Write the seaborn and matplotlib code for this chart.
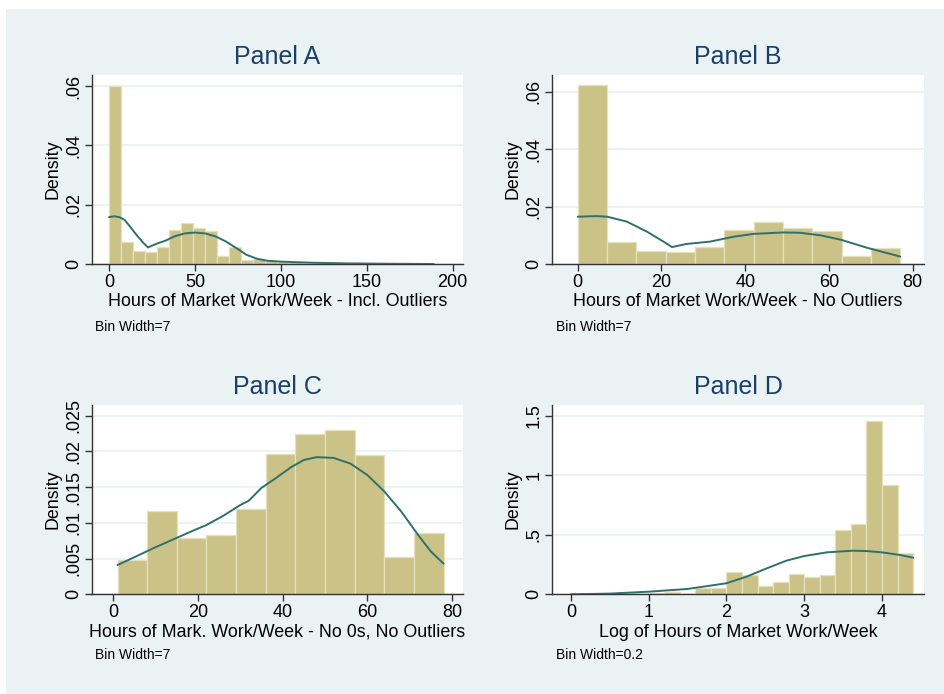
import numpy as np
import pandas as pd
import matplotlib
matplotlib.use("Agg")
import matplotlib.pyplot as plt
from matplotlib.patches import Rectangle
import seaborn as sns

sns.set_theme(style="white")
plt.rcParams["font.family"] = ["Liberation Sans", "DejaVu Sans"]

# ---- Panel A: hours of market work per week, including outliers (bin width 7)
a_bin_start, a_bin_width = 0, 7
a_density = [0.0600, 0.0074, 0.0044, 0.0040, 0.0057, 0.0113, 0.0138, 0.0121,
             0.0111, 0.0028, 0.0057, 0.0012, 0.0017, 0.0009, 0.0007, 0.0008,
             0.0004, 0.0004, 0.0002, 0.0001, 0.0001, 0.0001, 0.0001, 0.0001,
             0.0001, 0.0001, 0.0001]
a_kde_x = [0, 3, 6, 9, 12, 16, 20, 22.7, 28, 33, 38, 44, 50, 56, 62, 68, 74,
           80, 86, 92, 100, 110, 120, 140, 160, 189]
a_kde_y = [0.0158, 0.0161, 0.0158, 0.0149, 0.0128, 0.0098, 0.0071, 0.0056,
           0.0069, 0.0079, 0.0093, 0.0103, 0.0106, 0.0103, 0.0093, 0.0076,
           0.0054, 0.0031, 0.0018, 0.0011, 0.0008, 0.0006, 0.0004, 0.0002,
           0.0001, 0.0000]

# ---- Panel B: hours of market work per week, no outliers (bin width 7)
b_bin_start, b_bin_width = 0, 7
b_density = [0.0624, 0.0077, 0.0045, 0.0043, 0.0059, 0.0117, 0.0145, 0.0127,
             0.0116, 0.0029, 0.0057]
b_kde_x = [0, 4.5, 7, 11.7, 16.5, 20.5, 22.5, 26, 31.6, 37.2, 42, 49, 53,
           58, 63, 69, 77]
b_kde_y = [0.0165, 0.0167, 0.0165, 0.0148, 0.0113, 0.0078, 0.0059, 0.0070,
           0.0078, 0.0095, 0.0105, 0.0110, 0.0109, 0.0100, 0.0084, 0.0057,
           0.0026]

# ---- Panel C: hours of market work per week, no zeros, no outliers (bin width 7)
c_bin_start, c_bin_width = 1, 7
c_density = [0.0048, 0.0117, 0.0079, 0.0083, 0.0120, 0.0197, 0.0225, 0.0230,
             0.0195, 0.0052, 0.0086]
c_kde_x = [1, 5, 10, 15, 18, 22, 26, 30, 32, 35, 38, 42, 45, 48, 52, 56, 60,
           64, 68, 72, 75, 78]
c_kde_y = [0.0041, 0.0052, 0.0066, 0.0079, 0.0087, 0.0097, 0.0110, 0.0125,
           0.0131, 0.0149, 0.0161, 0.0178, 0.0188, 0.0192, 0.0191, 0.0183,
           0.0167, 0.0144, 0.0116, 0.0083, 0.0060, 0.0043]

# ---- Panel D: log of hours of market work per week (bin width 0.2)
d_bin_start, d_bin_width = 0.0, 0.2
d_density = [0.005, 0.0, 0.0, 0.006, 0.0, 0.010, 0.022, 0.0, 0.056, 0.050,
             0.188, 0.165, 0.067, 0.100, 0.171, 0.143, 0.163, 0.541, 0.592,
             1.461, 0.922, 0.348]
d_kde_x = [0, 0.5, 1.0, 1.5, 2.0, 2.26, 2.52, 2.77, 3.0, 3.29, 3.63, 3.8,
           4.0, 4.23, 4.4]
d_kde_y = [0.0, 0.006, 0.022, 0.045, 0.093, 0.149, 0.219, 0.283, 0.322,
           0.353, 0.367, 0.364, 0.353, 0.331, 0.308]

panels = [
    dict(title="Panel A", xlabel="Hours of Market Work/Week - Incl. Outliers",
         note="Bin Width=7", start=a_bin_start, width=a_bin_width,
         density=a_density, kx=a_kde_x, ky=a_kde_y,
         xticks=[0, 50, 100, 150, 200], xticklabels=["0", "50", "100", "150", "200"],
         yticks=[0, 0.02, 0.04, 0.06], yticklabels=["0", ".02", ".04", ".06"],
         xlim=(-9.9, 206), ylim=(0, 0.0637),
         rect=(92, 75, 463, 264), note_xy=(95, 327)),
    dict(title="Panel B", xlabel="Hours of Market Work/Week - No Outliers",
         note="Bin Width=7", start=b_bin_start, width=b_bin_width,
         density=b_density, kx=b_kde_x, ky=b_kde_y,
         xticks=[0, 20, 40, 60, 80], xticklabels=["0", "20", "40", "60", "80"],
         yticks=[0, 0.02, 0.04, 0.06], yticklabels=["0", ".02", ".04", ".06"],
         xlim=(-6.14, 82.7), ylim=(0, 0.0659),
         rect=(552, 75, 924, 264), note_xy=(556, 327)),
    dict(title="Panel C", xlabel="Hours of Mark. Work/Week - No 0s, No Outliers",
         note="Bin Width=7", start=c_bin_start, width=c_bin_width,
         density=c_density, kx=c_kde_x, ky=c_kde_y,
         xticks=[0, 20, 40, 60, 80], xticklabels=["0", "20", "40", "60", "80"],
         yticks=[0, 0.005, 0.01, 0.015, 0.02, 0.025],
         yticklabels=["0", ".005", ".01", ".015", ".02", ".025"],
         xlim=(-5.03, 82.6), ylim=(0, 0.0265),
         rect=(92, 405, 463, 594.3), note_xy=(95, 655)),
    dict(title="Panel D", xlabel="Log of Hours of Market Work/Week",
         note="Bin Width=0.2", start=d_bin_start, width=d_bin_width,
         density=d_density, kx=d_kde_x, ky=d_kde_y,
         xticks=[0, 1, 2, 3, 4], xticklabels=["0", "1", "2", "3", "4"],
         yticks=[0, 0.5, 1.0, 1.5], yticklabels=["0", ".5", "1", "1.5"],
         xlim=(-0.244, 4.54), ylim=(0, 1.593),
         rect=(552, 405, 924, 594.3), note_xy=(556, 655)),
]

W, H = 945, 694
BG = "#EAF2F3"
BAR = "#CBC287"
BAR_EDGE = "#E6E1BC"
LINE = "#2E716C"
TITLE = "#1A3F6A"

fig = plt.figure(figsize=(W / 100, H / 100), dpi=100)
fig.patch.set_facecolor("white")
fig.add_artist(Rectangle((6 / W, 0), 1 - 6 / W, (H - 9) / H,
                         transform=fig.transFigure, facecolor=BG,
                         edgecolor="none", zorder=-10))

for p in panels:
    x0, y0, x1, y1 = p["rect"]
    ax = fig.add_axes([x0 / W, 1 - y1 / H, (x1 - x0) / W, (y1 - y0) / H])
    ax.set_facecolor("white")

    n = len(p["density"])
    edges = (p["start"] + p["width"] * np.arange(n + 1)).tolist()
    hist_df = pd.DataFrame({"center": np.array(edges[:-1]) + p["width"] / 2,
                            "density": p["density"]})
    sns.histplot(data=hist_df, x="center", weights="density", bins=edges,
                 stat="count", color=BAR, alpha=1, edgecolor=BAR_EDGE,
                 linewidth=0.9, ax=ax, zorder=2)
    kde_df = pd.DataFrame({"x": p["kx"], "y": p["ky"]})
    sns.lineplot(data=kde_df, x="x", y="y", color=LINE, linewidth=1.4, ax=ax,
                 zorder=3)

    ax.set_xlim(*p["xlim"])
    ax.set_ylim(*p["ylim"])
    ax.set_xticks(p["xticks"])
    ax.set_xticklabels(p["xticklabels"])
    ax.set_yticks(p["yticks"])
    ax.set_yticklabels(p["yticklabels"], rotation=90, va="center")
    ax.grid(axis="y", color=BG, linewidth=1.3, zorder=0)
    ax.set_axisbelow(True)
    for side in ("top", "right"):
        ax.spines[side].set_visible(False)
    for side in ("left", "bottom"):
        ax.spines[side].set_color("#333333")
        ax.spines[side].set_linewidth(1.0)
    ax.tick_params(axis="both", direction="out", length=5, width=1,
                   color="#333333", labelsize=13, labelcolor="black",
                   bottom=True, left=True, pad=2)
    ax.set_xlabel(p["xlabel"], fontsize=12.9, color="black", labelpad=2)
    ax.set_ylabel("Density", fontsize=12.9, color="black", labelpad=3)
    ax.set_title(p["title"], fontsize=18, color=TITLE, pad=8)

    nx, ny = p["note_xy"]
    fig.text(nx / W, 1 - ny / H, p["note"], fontsize=10, color="black",
             ha="left", va="center")

fig.savefig("out.png", dpi=100, facecolor=fig.get_facecolor())
